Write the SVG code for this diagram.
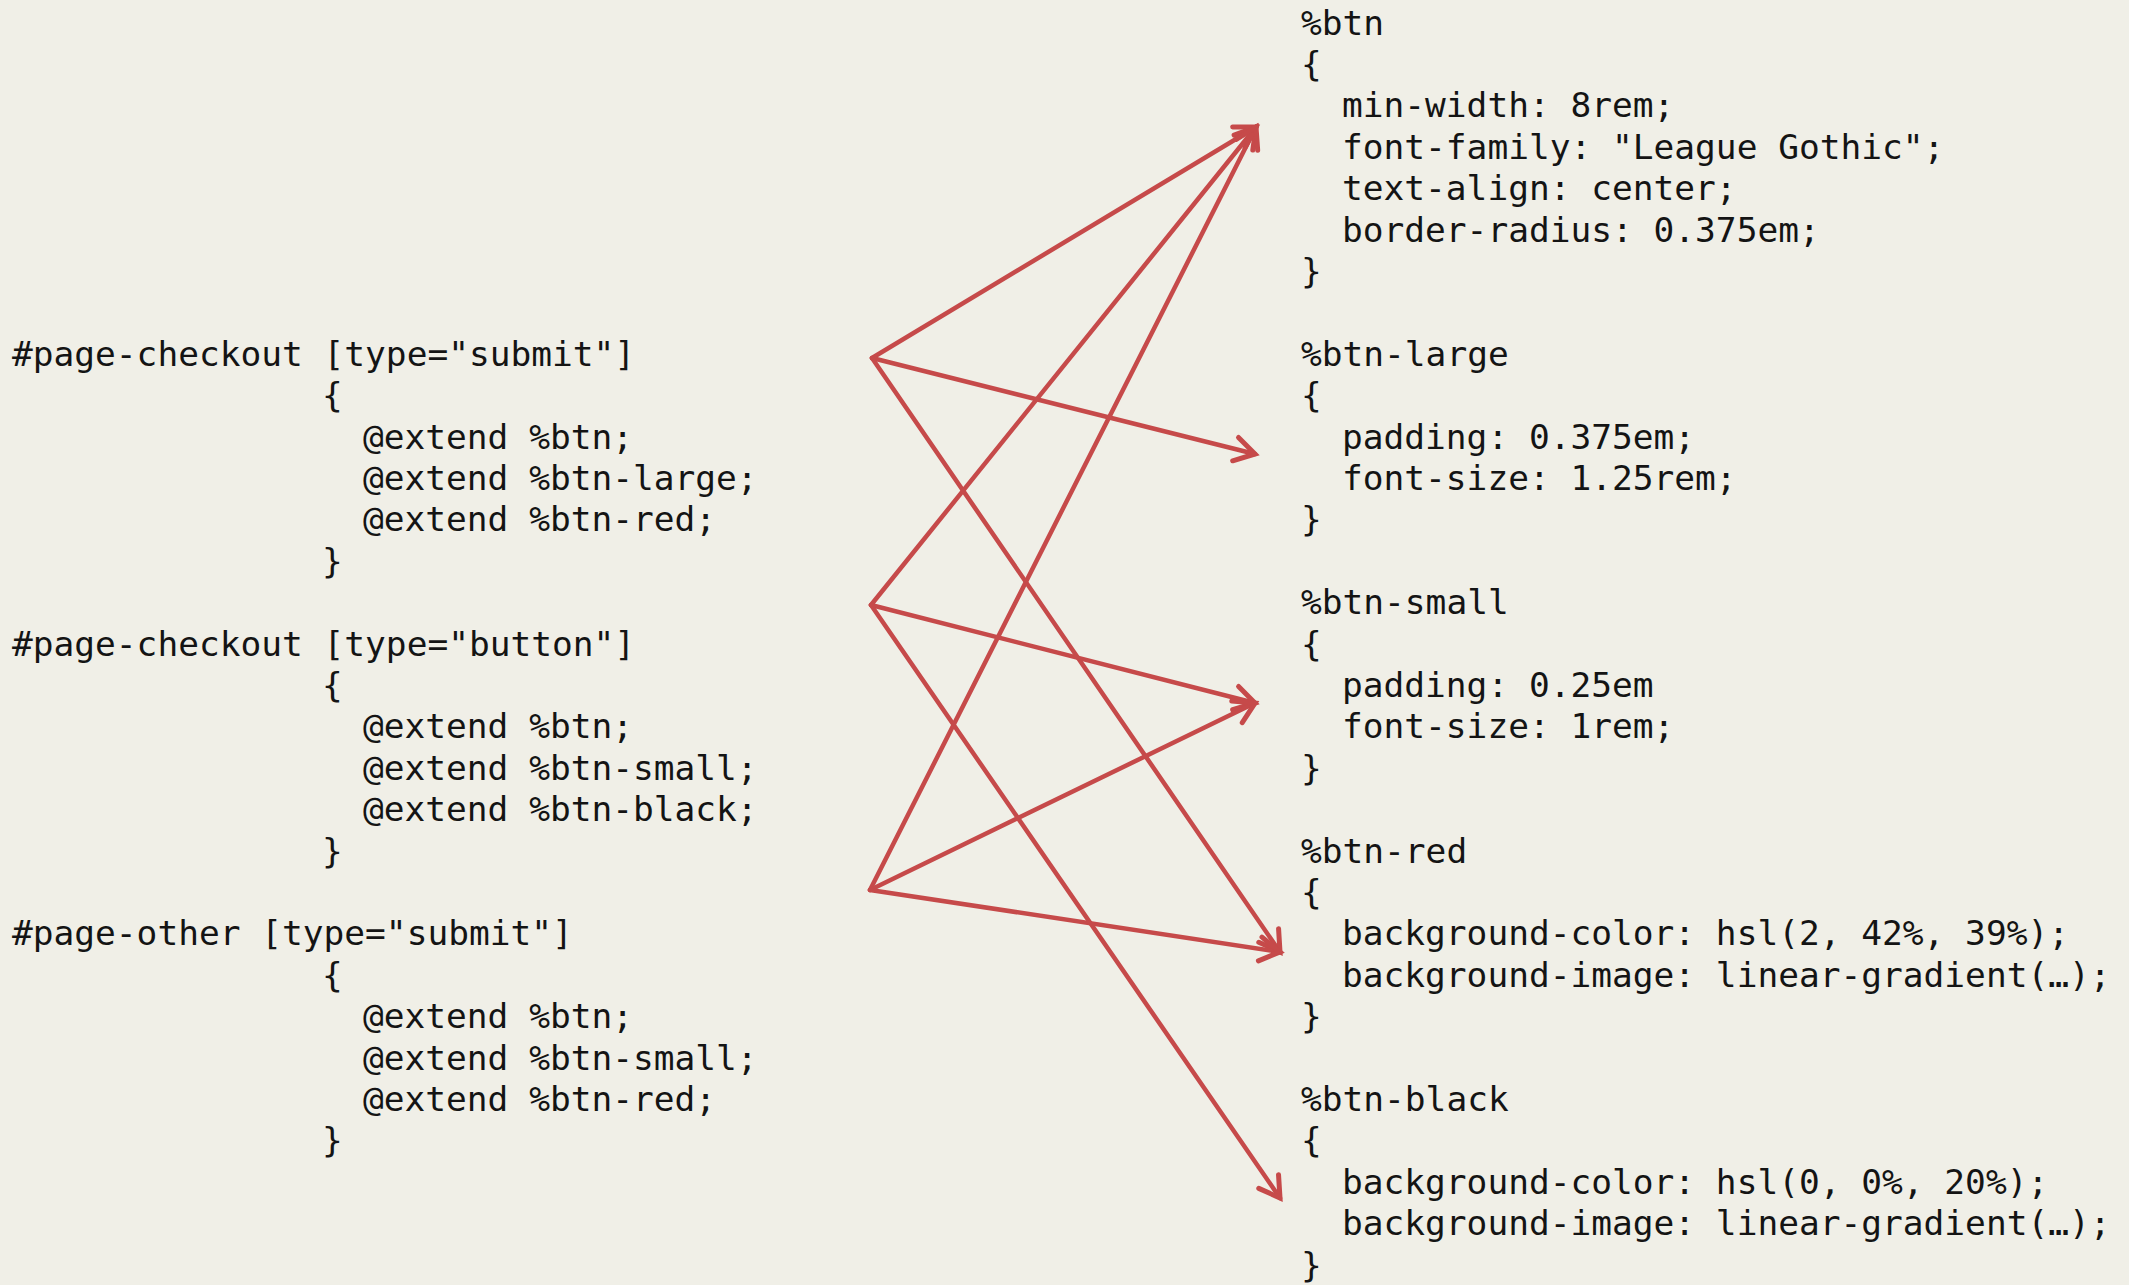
<svg xmlns="http://www.w3.org/2000/svg" width="2129" height="1285" viewBox="0 0 2129 1285">
<style>
.c{font-family:"DejaVu Sans Mono","Liberation Mono",monospace;font-size:34.5px;fill:#141414}
.e{fill:none;stroke:#c64a4a;stroke-width:4.5;stroke-linecap:round}
</style>
<defs>
<marker id="ah" markerUnits="userSpaceOnUse" markerWidth="40" markerHeight="40" viewBox="-30 -20 40 40" refX="0" refY="0" orient="auto" overflow="visible">
<path d="M-20,-12 L0,0 L-20,12" fill="none" stroke="#c64a4a" stroke-width="5" stroke-linecap="round" stroke-linejoin="miter"/>
</marker>
</defs>
<rect width="2129" height="1285" fill="#f0efe7"/>
<g id="connectors">
<line class="e" x1="872" y1="358" x2="1256" y2="127" marker-end="url(#ah)"/>
<line class="e" x1="872" y1="358" x2="1255" y2="454" marker-end="url(#ah)"/>
<line class="e" x1="872" y1="358" x2="1280" y2="952" marker-end="url(#ah)"/>
<line class="e" x1="871" y1="605" x2="1256" y2="127" marker-end="url(#ah)"/>
<line class="e" x1="871" y1="605" x2="1255" y2="703" marker-end="url(#ah)"/>
<line class="e" x1="871" y1="605" x2="1280" y2="1198" marker-end="url(#ah)"/>
<line class="e" x1="870" y1="890" x2="1256" y2="127" marker-end="url(#ah)"/>
<line class="e" x1="870" y1="890" x2="1255" y2="703" marker-end="url(#ah)"/>
<line class="e" x1="870" y1="890" x2="1280" y2="952" marker-end="url(#ah)"/>
</g>
<g id="rule-checkout-submit">
<text class="c" x="12" y="365.7">#page-checkout [type="submit"]</text>
<text class="c" x="322" y="407.1">{</text>
<text class="c" x="363" y="448.5">@extend %btn;</text>
<text class="c" x="363" y="489.9">@extend %btn-large;</text>
<text class="c" x="363" y="531.3">@extend %btn-red;</text>
<text class="c" x="322" y="572.7">}</text>
</g>
<g id="rule-checkout-button">
<text class="c" x="12" y="655.5">#page-checkout [type="button"]</text>
<text class="c" x="322" y="696.9">{</text>
<text class="c" x="363" y="738.3">@extend %btn;</text>
<text class="c" x="363" y="779.7">@extend %btn-small;</text>
<text class="c" x="363" y="821.1">@extend %btn-black;</text>
<text class="c" x="322" y="862.5">}</text>
</g>
<g id="rule-other-submit">
<text class="c" x="12" y="945.3">#page-other [type="submit"]</text>
<text class="c" x="322" y="986.7">{</text>
<text class="c" x="363" y="1028.1">@extend %btn;</text>
<text class="c" x="363" y="1069.5">@extend %btn-small;</text>
<text class="c" x="363" y="1110.9">@extend %btn-red;</text>
<text class="c" x="322" y="1152.3">}</text>
</g>
<g id="btn">
<text class="c" x="1301" y="34.5">%btn</text>
<text class="c" x="1301" y="75.9">{</text>
<text class="c" x="1342" y="117.3">min-width: 8rem;</text>
<text class="c" x="1342" y="158.7">font-family: "League Gothic";</text>
<text class="c" x="1342" y="200.1">text-align: center;</text>
<text class="c" x="1342" y="241.5">border-radius: 0.375em;</text>
<text class="c" x="1301" y="282.9">}</text>
</g>
<g id="btn-large">
<text class="c" x="1301" y="365.7">%btn-large</text>
<text class="c" x="1301" y="407.1">{</text>
<text class="c" x="1342" y="448.5">padding: 0.375em;</text>
<text class="c" x="1342" y="489.9">font-size: 1.25rem;</text>
<text class="c" x="1301" y="531.3">}</text>
</g>
<g id="btn-small">
<text class="c" x="1301" y="614.1">%btn-small</text>
<text class="c" x="1301" y="655.5">{</text>
<text class="c" x="1342" y="696.9">padding: 0.25em</text>
<text class="c" x="1342" y="738.3">font-size: 1rem;</text>
<text class="c" x="1301" y="779.7">}</text>
</g>
<g id="btn-red">
<text class="c" x="1301" y="862.5">%btn-red</text>
<text class="c" x="1301" y="903.9">{</text>
<text class="c" x="1342" y="945.3">background-color: hsl(2, 42%, 39%);</text>
<text class="c" x="1342" y="986.7">background-image: linear-gradient(…);</text>
<text class="c" x="1301" y="1028.1">}</text>
</g>
<g id="btn-black">
<text class="c" x="1301" y="1110.9">%btn-black</text>
<text class="c" x="1301" y="1152.3">{</text>
<text class="c" x="1342" y="1193.7">background-color: hsl(0, 0%, 20%);</text>
<text class="c" x="1342" y="1235.1">background-image: linear-gradient(…);</text>
<text class="c" x="1301" y="1276.5">}</text>
</g>
</svg>
